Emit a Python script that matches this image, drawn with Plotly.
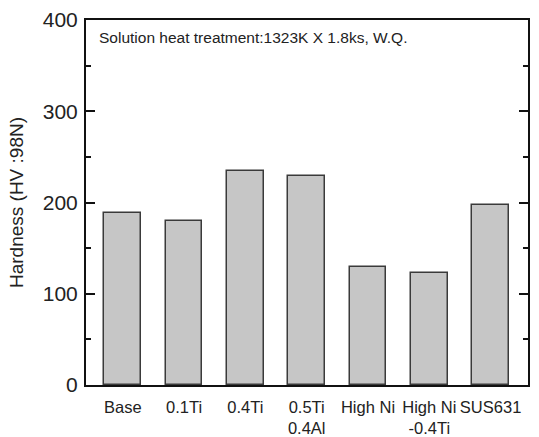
import plotly.graph_objects as go

# Hardness after solution heat treatment for each alloy
alloys = ["Base", "0.1Ti", "0.4Ti", "0.5Ti<br>0.4Al", "High Ni", "High Ni<br>-0.4Ti", "SUS631"]
hardness = [189, 180, 234, 229, 129, 123, 197]
y_ticks = [0, 100, 200, 300, 400]

font_family = "Liberation Sans, Arial, sans-serif"

fig = go.Figure()
fig.add_trace(go.Bar(
    x=list(range(len(alloys))),
    y=hardness,
    width=0.6,
    marker=dict(color="#c6c6c6", line=dict(color="#3a3a3a", width=1.5)),
))

fig.update_layout(
    width=539, height=437,
    margin=dict(l=86, r=11, t=20, b=52),
    paper_bgcolor="white", plot_bgcolor="white",
    showlegend=False,
    font=dict(family=font_family, color="#222"),
    bargap=0,
)

fig.update_xaxes(
    range=[-0.6, 6.61],
    tickmode="array",
    tickvals=list(range(len(alloys))),
    ticktext=alloys,
    ticks="",
    tickangle=0,
    ticklabelstandoff=6,
    tickfont=dict(size=16.5),
    automargin=False,
    showline=True, linecolor="#111", linewidth=2, mirror=True,
    showgrid=False, zeroline=False,
)

fig.update_yaxes(
    range=[0, 400],
    tickmode="array",
    tickvals=y_ticks,
    ticks="inside", ticklen=9, tickwidth=2, tickcolor="#111",
    minor=dict(dtick=50, ticks="inside", ticklen=5, tickwidth=2, tickcolor="#111"),
    tickfont=dict(size=21),
    ticklabelstandoff=2,
    automargin=False,
    title=dict(text="Hardness (HV :98N)", font=dict(size=19), standoff=14),
    showline=True, linecolor="#111", linewidth=2, mirror="ticks",
    showgrid=False, zeroline=False,
)

fig.add_annotation(
    text="Solution heat treatment:1323K X 1.8ks, W.Q.",
    xref="paper", yref="paper", x=0.025, y=0.982,
    xanchor="left", yanchor="top", showarrow=False,
    font=dict(size=15.5, family=font_family, color="#222"),
)

fig.write_html("out.html")
